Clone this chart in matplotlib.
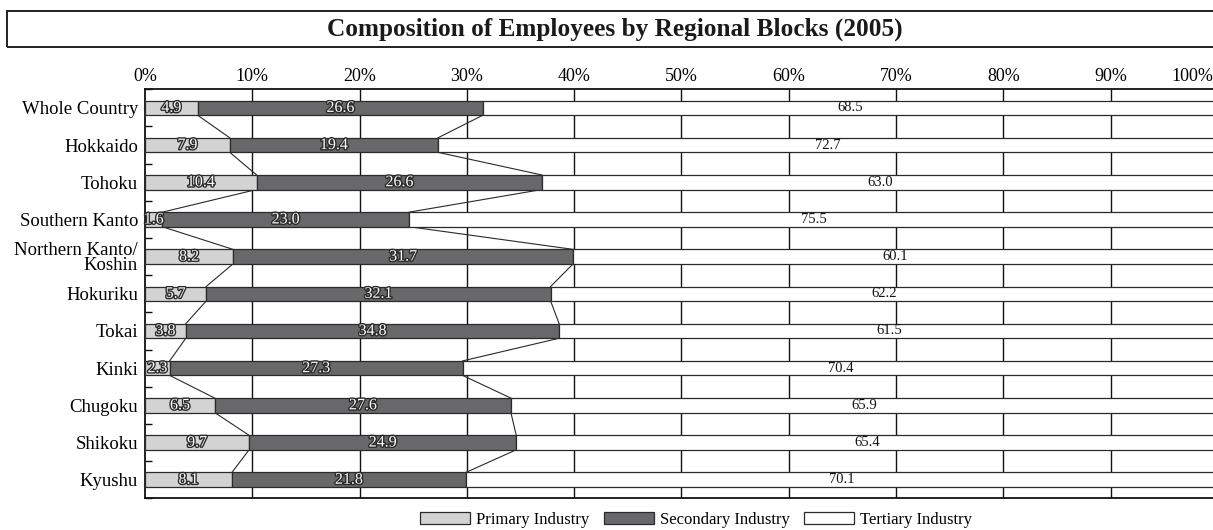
import matplotlib

matplotlib.use("Agg")
import matplotlib.pyplot as plt
import matplotlib.patheffects as pe
from matplotlib.patches import Rectangle
import numpy as np

# --------------------------------------------------------------------------- #
# Data (percent of employees, 2005)
# --------------------------------------------------------------------------- #
REGIONS = ["Whole Country", "Hokkaido", "Tohoku", "Southern Kanto",
           "Northern Kanto/\nKoshin", "Hokuriku", "Tokai", "Kinki",
           "Chugoku", "Shikoku", "Kyushu"]
PRIMARY = [4.9, 7.9, 10.4, 1.6, 8.2, 5.7, 3.8, 2.3, 6.5, 9.7, 8.1]
SECONDARY = [26.6, 19.4, 26.6, 23.0, 31.7, 32.1, 34.8, 27.3, 27.6, 24.9, 21.8]
TERTIARY = [68.5, 72.7, 63.0, 75.5, 60.1, 62.2, 61.5, 70.4, 65.9, 65.4, 70.1]
SERIES = ["Primary Industry", "Secondary Industry", "Tertiary Industry"]
XTICKS = [0, 10, 20, 30, 40, 50, 60, 70, 80, 90]

COLORS = ["#d3d3d3", "#68686a", "#ffffff"]
EDGE = "#2a2a2a"
BAR_H = 0.39

plt.rcParams["font.family"] = ["Liberation Serif", "DejaVu Serif"]

W, H = 1213, 530
fig = plt.figure(figsize=(W / 100, H / 100), dpi=100)
ax = fig.add_axes([145 / W, 1 - 498.3 / H, (W - 145) / W, (498.3 - 89.3) / H])

y = np.arange(len(REGIONS))
prim = np.array(PRIMARY)
sec = np.array(SECONDARY)
ter = np.array(TERTIARY)

ax.barh(y, prim, height=BAR_H, color=COLORS[0], edgecolor=EDGE, lw=0.9,
        label=SERIES[0], zorder=3)
ax.barh(y, sec, left=prim, height=BAR_H, color=COLORS[1], edgecolor=EDGE,
        lw=0.9, label=SERIES[1], zorder=3)
ax.barh(y, ter, left=prim + sec, height=BAR_H, color=COLORS[2],
        edgecolor=EDGE, lw=0.9, label=SERIES[2], zorder=3)

# series lines between consecutive bars
for cum in (prim, prim + sec):
    for i in range(len(y) - 1):
        ax.plot([cum[i], cum[i + 1]], [y[i] + BAR_H / 2, y[i + 1] - BAR_H / 2],
                color=EDGE, lw=0.8, zorder=2)

# value labels
outline = [pe.withStroke(linewidth=2.0, foreground="#2a2a2a")]
for i in range(len(y)):
    ax.text(prim[i] / 2, y[i], f"{prim[i]:.1f}", ha="center", va="center",
            fontsize=11.5, color="white", path_effects=outline, zorder=5)
    ax.text(prim[i] + sec[i] / 2, y[i], f"{sec[i]:.1f}", ha="center",
            va="center", fontsize=11.5, color="white", path_effects=outline,
            zorder=5)
    ax.text(prim[i] + sec[i] + ter[i] / 2, y[i], f"{ter[i]:.1f}",
            ha="center", va="center", fontsize=10.5, color="#111111", zorder=5)

ax.set_xlim(0, (W - 145) / 107.3 * 10)
ax.set_ylim(len(y) - 0.5, -0.5)

for x in XTICKS[1:]:
    ax.axvline(x, color="#111111", lw=1.0, zorder=1)

ax.xaxis.tick_top()
ax.set_xticks(XTICKS)
ax.set_xticklabels([f"{t}%" for t in XTICKS], fontsize=13)
ax.tick_params(axis="x", length=0, pad=3)
ax.annotate("100%", xy=(1.0, 1.0), xycoords="axes fraction",
            xytext=(0, 3), textcoords="offset points", ha="right",
            va="bottom", fontsize=13)

ax.set_yticks(y)
ax.set_yticklabels(REGIONS, fontsize=13.5, linespacing=0.85)
ax.tick_params(axis="y", length=0, pad=5)
ax.set_yticks(np.arange(-0.5, len(y), 1.0), minor=True)
ax.tick_params(axis="y", which="minor", direction="in", length=5, width=1.0,
               color="#111111")

for s in ("top", "left", "bottom"):
    ax.spines[s].set_linewidth(1.3)
    ax.spines[s].set_color("#111111")
ax.spines["right"].set_visible(False)

# title box
fig.patches.append(Rectangle((7 / W, 1 - 47.3 / H), 1.0, (47.3 - 10.7) / H,
                             transform=fig.transFigure, fill=False,
                             edgecolor="#222222", lw=1.4))
fig.text(615 / W, 1 - 29 / H, "Composition of Employees by Regional Blocks (2005)",
         ha="center", va="center", fontsize=18.2, fontweight="bold",
         color="#1a1a1a")

fig.legend(loc="center", bbox_to_anchor=(696 / W, 1 - 520 / H), ncol=3,
           frameon=False, fontsize=12, handlelength=3.0, handleheight=0.7,
           handletextpad=0.35, columnspacing=0.9)

fig.savefig("out.png", dpi=100)
